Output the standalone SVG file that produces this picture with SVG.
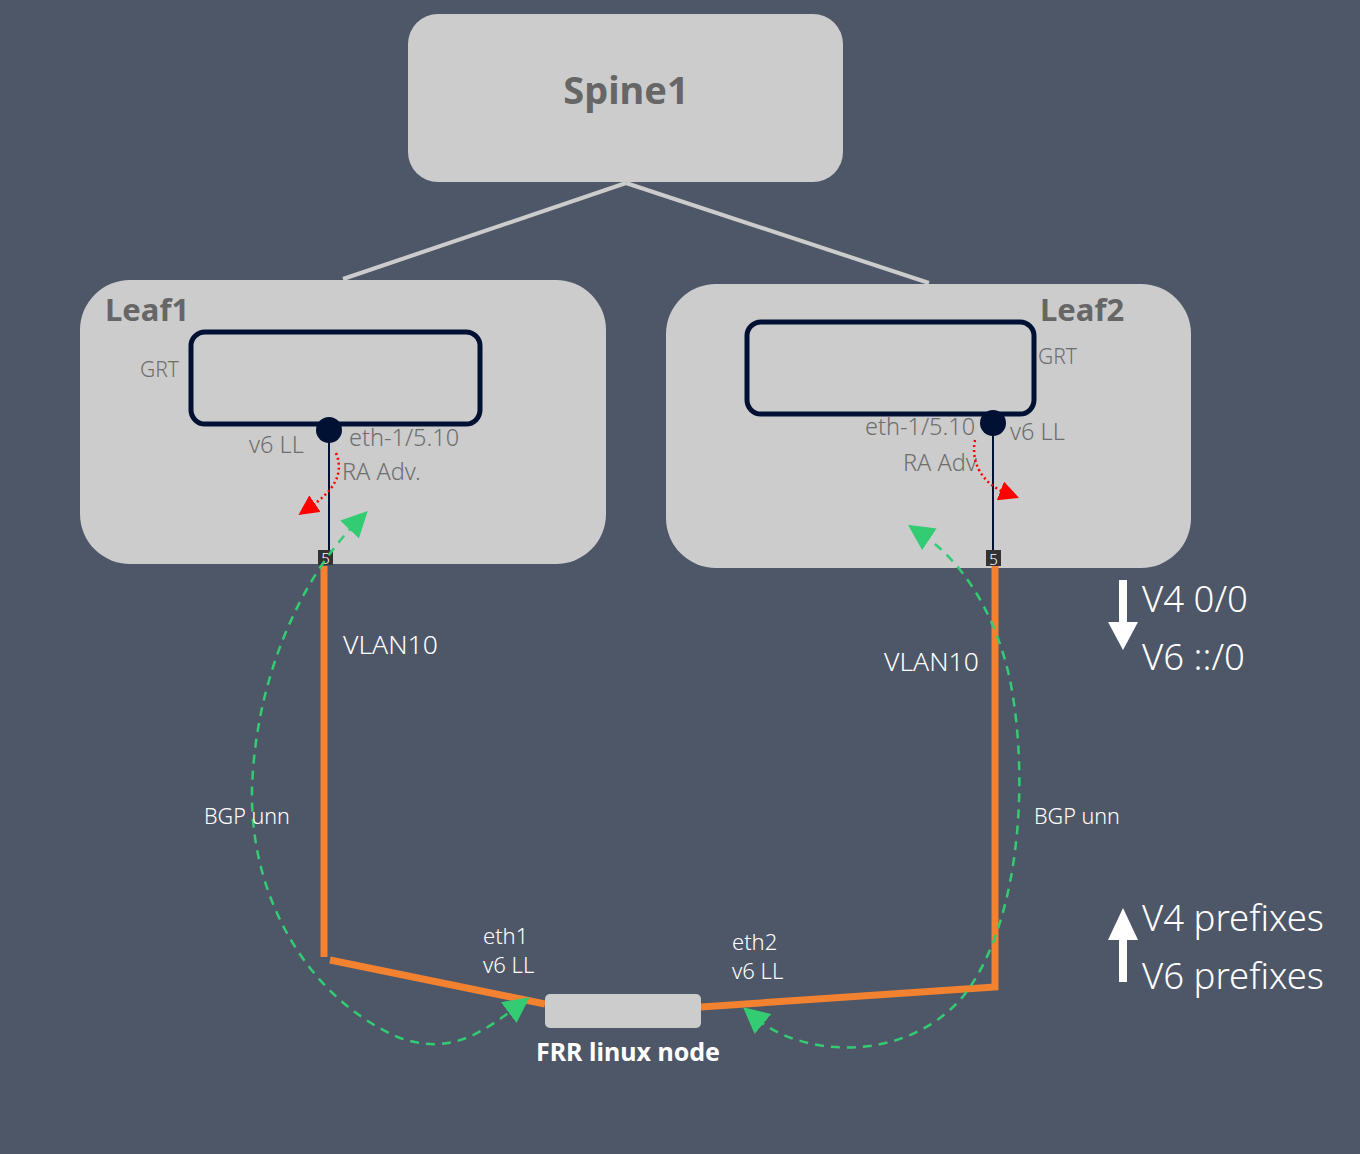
<svg xmlns="http://www.w3.org/2000/svg" width="1360" height="1154" viewBox="0 0 1360 1154">
<defs>
<style>
.node{fill:#cccccc}
.grt{fill:none;stroke:#001133;stroke-width:5}
.title{font-family:"Noto Sans","Open Sans",sans-serif;font-weight:bold;fill:#666666}
.lbl{font-family:"Noto Sans","Open Sans",sans-serif;font-size:23.5px;font-weight:300;fill:#6e6e6e}
.wt{font-family:"Noto Sans","Open Sans",sans-serif;font-weight:300;fill:#ffffff}
.bold{font-weight:bold}
.orange{fill:none;stroke:#f28130;stroke-width:7}
.green{fill:none;stroke:#33cc73;stroke-width:2.5;stroke-dasharray:9 7}
.red{fill:none;stroke:#ff0000;stroke-width:2.5;stroke-dasharray:2 3}
.wire{stroke:#001133;stroke-width:2}
.spl{stroke:#cccccc;stroke-width:4}
</style>
<marker id="ga" viewBox="0 0 10 10" refX="3" refY="5" markerWidth="26" markerHeight="26" markerUnits="userSpaceOnUse" orient="auto-start-reverse"><path d="M0,0 L10,5 L0,10 z" fill="#33cc73"/></marker>
<marker id="ra" viewBox="0 0 10 10" refX="3" refY="5" markerWidth="20" markerHeight="20" markerUnits="userSpaceOnUse" orient="auto"><path d="M0,0 L10,5 L0,10 z" fill="#ff0000"/></marker>
</defs>
<rect width="1360" height="1154" fill="#4e5767"/>

<g id="connectors">
<line class="spl" x1="626" y1="183" x2="343" y2="279"/>
<line class="spl" x1="626" y1="183" x2="929" y2="283"/>
</g>

<g id="spine1">
<rect class="node" x="408" y="14" width="435" height="168" rx="30"/>
<text class="title" x="626" y="104" font-size="38" text-anchor="middle">Spine1</text>
</g>

<g id="leaf1">
<rect class="node" x="80" y="280" width="526" height="284" rx="50"/>
<text class="title" x="105" y="321" font-size="31">Leaf1</text>
<rect class="grt" x="191" y="332" width="289" height="92" rx="14"/>
<text class="lbl" x="140" y="377" style="font-size:21px">GRT</text>
<line class="wire" x1="329" y1="430" x2="329" y2="552"/>
<circle cx="329" cy="430" r="13" fill="#001133"/>
<text class="lbl" x="249" y="453">v6 LL</text>
<text class="lbl" x="349" y="446">eth-1/5.10</text>
<text class="lbl" x="342" y="480">RA Adv.</text>
<rect x="318" y="550" width="15" height="15" fill="#333333"/>
<text class="wt" x="325.5" y="563.5" font-size="15" text-anchor="middle">5</text>
</g>

<g id="leaf2">
<rect class="node" x="666" y="284" width="525" height="284" rx="50"/>
<text class="title" x="1040" y="321" font-size="31">Leaf2</text>
<rect class="grt" x="747" y="322" width="287" height="92" rx="14"/>
<text class="lbl" x="1038" y="364" style="font-size:21px">GRT</text>
<line class="wire" x1="993" y1="423" x2="993" y2="552"/>
<circle cx="993" cy="423" r="13" fill="#001133"/>
<text class="lbl" x="865" y="435">eth-1/5.10</text>
<text class="lbl" x="1010" y="440">v6 LL</text>
<text class="lbl" x="903" y="471">RA Adv.</text>
<rect x="986" y="550" width="15" height="16" fill="#333333"/>
<text class="wt" x="993.5" y="564.5" font-size="15" text-anchor="middle">5</text>
</g>

<g id="links">
<polyline class="orange" points="324,566 324,957"/>
<polyline class="orange" points="330,960 545,1004"/>
<polyline class="orange" points="701,1007 995,987 995,566"/>
<path class="green" marker-start="url(#ga)" marker-end="url(#ga)" d="M355,524 C300,580 255,680 252,790 C250,900 310,1000 400,1038 C450,1055 480,1034 515,1008"/>
<path class="green" marker-start="url(#ga)" marker-end="url(#ga)" d="M757,1019 C800,1055 900,1065 960,1000 C1020,930 1030,780 1010,680 C995,610 960,560 923,535"/>
<path class="red" marker-end="url(#ra)" d="M336,453 C345,475 332,492 310,507"/>
<path class="red" marker-end="url(#ra)" d="M975,440 C970,465 985,485 1006,493"/>
<text class="wt" x="343" y="654" font-size="26.5">VLAN10</text>
<text class="wt" x="884" y="671" font-size="26.5">VLAN10</text>
<text class="wt" x="204" y="824" font-size="21.5">BGP unn</text>
<text class="wt" x="1034" y="824" font-size="21.5">BGP unn</text>
<text class="wt" x="483" y="944" font-size="22">eth1</text>
<text class="wt" x="483" y="973" font-size="22">v6 LL</text>
<text class="wt" x="732" y="950" font-size="22">eth2</text>
<text class="wt" x="732" y="979" font-size="22">v6 LL</text>
</g>

<g id="frr">
<rect class="node" x="545" y="994" width="156" height="34" rx="5"/>
<text class="wt bold" x="628" y="1061" font-size="25" text-anchor="middle">FRR linux node</text>
</g>

<g id="legend">
<rect x="1119" y="580" width="8" height="44" fill="#ffffff"/>
<path d="M1108,622 L1138,622 L1123,650 z" fill="#ffffff"/>
<text class="wt" x="1142" y="612" font-size="36.5">V4 0/0</text>
<text class="wt" x="1142" y="670" font-size="36.5">V6 ::/0</text>
<path d="M1123,908 L1138,940 L1108,940 z" fill="#ffffff"/>
<rect x="1119" y="938" width="8" height="44" fill="#ffffff"/>
<text class="wt" x="1142" y="931" font-size="36.5">V4 prefixes</text>
<text class="wt" x="1142" y="989" font-size="36.5">V6 prefixes</text>
</g>
</svg>
